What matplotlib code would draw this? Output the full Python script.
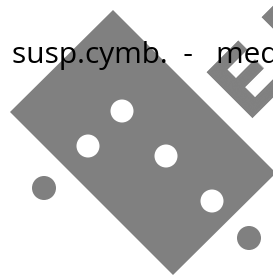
import numpy as np
import matplotlib
matplotlib.use("Agg")
import matplotlib.pyplot as plt
from matplotlib.patches import Polygon, Circle

# --- data (pixel units of the picture, y goes down) ---
W, H = 273, 279
GRAY = "#808080"

# big tilted board
board_x = [113, 10, 173, 276]
board_y = [10, 112, 275, 173]

# holes in the board (white) and loose pieces (gray)
hole_x = [122, 88, 166, 212]
hole_y = [111, 146, 156, 201]
hole_r = [11.5, 11.5, 11.5, 11.5]

piece_x = [44, 249]
piece_y = [188, 238]
piece_r = [12, 12]

title = "susp.cymb.  -   med"
mark_letters = ["E", "E"]
mark_step = 78           # distance between watermark letters, px
mark_start = (245, 118)  # baseline-left of the first letter

fig = plt.figure(figsize=(W / 100, H / 100), dpi=100)
ax = fig.add_axes([0, 0, 1, 1])
ax.set_xlim(0, W)
ax.set_ylim(H, 0)
ax.axis("off")

ax.add_patch(Polygon(np.column_stack([board_x, board_y]), closed=True,
                     facecolor=GRAY, edgecolor="none", zorder=1))

for x, y, r in zip(hole_x, hole_y, hole_r):
    ax.add_patch(Circle((x, y), r, facecolor="white", edgecolor="none", zorder=2))
for x, y, r in zip(piece_x, piece_y, piece_r):
    ax.add_patch(Circle((x, y), r, facecolor=GRAY, edgecolor="none", zorder=2))

# watermark letters, running up-right and cut by the frame
step = mark_step / np.sqrt(2)
for i, ch in enumerate(mark_letters):
    ax.text(mark_start[0] + i * step, mark_start[1] - i * step, ch,
            rotation=45, rotation_mode="anchor", ha="left", va="baseline",
            fontsize=64, fontweight="bold", family="DejaVu Sans",
            color=GRAY, zorder=1, clip_on=True)

ax.text(12, 63, title, ha="left", va="baseline", fontsize=21.5,
        family="Open Sans", color="black", zorder=3)

fig.savefig("out.png", dpi=100)
